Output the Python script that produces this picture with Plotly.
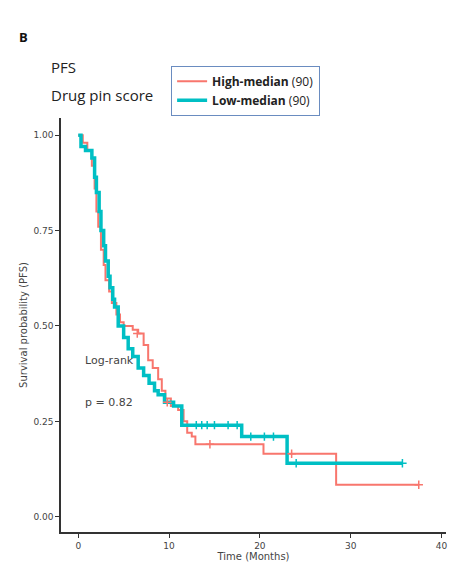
import plotly.graph_objects as go

high_t = [0, 0.5, 1.0, 1.5, 1.8, 2.0, 2.2, 2.5, 2.8, 3.0, 3.4, 3.7, 4.2, 4.6, 5.0, 6.0, 6.6, 7.2, 7.7, 8.2, 8.8, 9.2, 9.6, 10.2, 11.0, 11.6, 12.0, 12.5, 12.9, 20.4, 28.4, 37.5]
high_s = [1.0, 0.98, 0.96, 0.92, 0.86, 0.80, 0.76, 0.70, 0.66, 0.62, 0.59, 0.56, 0.53, 0.51, 0.50, 0.49, 0.48, 0.45, 0.41, 0.39, 0.36, 0.33, 0.31, 0.29, 0.28, 0.25, 0.22, 0.21, 0.19, 0.165, 0.084, 0.084]
low_t = [0, 0.3, 0.8, 1.5, 1.8, 2.0, 2.3, 2.5, 2.8, 3.0, 3.3, 3.5, 3.8, 4.0, 4.4, 5.0, 5.5, 6.0, 6.6, 7.2, 7.8, 8.4, 8.8, 9.5, 10.5, 11.4, 18.0, 23.0, 35.7]
low_s = [1.0, 0.97, 0.96, 0.94, 0.89, 0.85, 0.80, 0.75, 0.71, 0.67, 0.63, 0.60, 0.57, 0.55, 0.50, 0.47, 0.44, 0.42, 0.39, 0.37, 0.35, 0.33, 0.32, 0.30, 0.29, 0.24, 0.21, 0.14, 0.14]
high_cens_t = [6.5, 9.8, 14.5, 23.5, 37.5]
high_cens_s = [0.48, 0.30, 0.19, 0.165, 0.084]
low_cens_t = [13.0, 13.6, 14.2, 15.0, 16.5, 17.5, 19.0, 20.5, 21.5, 24.0, 35.7]
low_cens_s = [0.24, 0.24, 0.24, 0.24, 0.24, 0.24, 0.21, 0.21, 0.21, 0.14, 0.14]

RED = "#F8766D"
TEAL = "#00BFC4"

fig = go.Figure()
fig.add_trace(go.Scatter(x=high_t, y=high_s, mode="lines", line=dict(color=RED, width=2, shape="hv"),
                         name="<b>High-median</b> (90)"))
fig.add_trace(go.Scatter(x=low_t, y=low_s, mode="lines", line=dict(color=TEAL, width=3.5, shape="hv"),
                         name="<b>Low-median</b> (90)"))
fig.add_trace(go.Scatter(x=high_cens_t, y=high_cens_s, mode="markers", showlegend=False,
                         marker=dict(symbol="cross-thin", size=6, line=dict(color=RED, width=1.5))))
fig.add_trace(go.Scatter(x=low_cens_t, y=low_cens_s, mode="markers", showlegend=False,
                         marker=dict(symbol="cross-thin", size=6, line=dict(color=TEAL, width=1.5))))

axis_common = dict(showgrid=False, zeroline=False, showline=True, linecolor="#333", linewidth=1.5,
                   ticks="outside", ticklen=4, tickcolor="#333", tickfont=dict(size=9, color="#444", family="DejaVu Sans"))
fig.update_xaxes(range=[-1.9, 40.5], tickvals=[0, 10, 20, 30, 40], **axis_common,
                 title=dict(text="Time (Months)", font=dict(size=10, color="#444", family="DejaVu Sans"), standoff=2))
fig.update_yaxes(range=[-0.04, 1.045], tickvals=[0, 0.25, 0.5, 0.75, 1.0], ticktext=["0.00", "0.25", "0.50", "0.75", "1.00"],
                 **axis_common,
                 title=dict(text="Survival probability (PFS)", font=dict(size=10, color="#444", family="DejaVu Sans"), standoff=4))

fig.add_annotation(x=0.5, y=0.41, text="Log-rank", showarrow=False, xanchor="left", font=dict(size=11, color="#444", family="DejaVu Sans"))
fig.add_annotation(x=0.5, y=0.30, text="p = 0.82", showarrow=False, xanchor="left", font=dict(size=11, color="#444", family="DejaVu Sans"))
fig.add_annotation(xref="paper", yref="paper", x=-0.115, y=1.222, text="<b>B</b>", showarrow=False, xanchor="left",
                   font=dict(size=13, color="#111", family="Open Sans"))
fig.add_annotation(xref="paper", yref="paper", x=-0.03, y=1.152, text="PFS", showarrow=False, xanchor="left",
                   font=dict(size=15, color="#222", family="Open Sans"))
fig.add_annotation(xref="paper", yref="paper", x=-0.03, y=1.085, text="Drug pin score", showarrow=False, xanchor="left",
                   font=dict(size=15, color="#222", family="Open Sans"))

fig.update_layout(width=474, height=577, plot_bgcolor="white", paper_bgcolor="white",
                  margin=dict(l=53, r=36, t=110, b=53),
                  legend=dict(x=0.286, y=1.126, xanchor="left", yanchor="top", bordercolor="#6a8cc0", borderwidth=1,
                              bgcolor="white", tracegroupgap=4, font=dict(size=12, color="#222", family="Open Sans")))
fig.write_html("out.html")
